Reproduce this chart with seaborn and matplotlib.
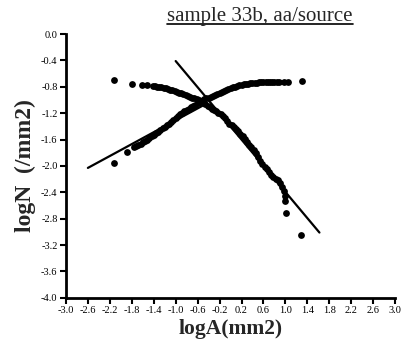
import numpy as np
import pandas as pd
import matplotlib
matplotlib.use("Agg")
import matplotlib.pyplot as plt
import seaborn as sns

# points
falling_x = [-2.12, -1.79, -1.62, -1.52,
             -1.42, -1.38, -1.34, -1.30, -1.26, -1.22, -1.18, -1.14, -1.10, -1.06,
             -1.02, -0.98, -0.94, -0.90, -0.86, -0.82, -0.78, -0.74, -0.70, -0.66,
             -0.62, -0.58, -0.54, -0.50, -0.46, -0.42, -0.38, -0.34, -0.30, -0.26,
             -0.22, -0.18, -0.14, -0.10, -0.06, -0.02, 0.02, 0.06, 0.10, 0.14,
             0.18, 0.22, 0.26, 0.30, 0.34, 0.38, 0.42, 0.46, 0.50, 0.54,
             0.58, 0.62, 0.66, 0.70, 0.74, 0.78, 0.82, 0.86, 0.90, 0.94,
             0.97, 0.99, 1.00, 1.01, 1.29]
falling_y = [-0.69, -0.76, -0.77, -0.77,
             -0.79, -0.795, -0.80, -0.805, -0.81, -0.815, -0.825, -0.835, -0.845, -0.855,
             -0.865, -0.875, -0.89, -0.90, -0.915, -0.93, -0.945, -0.955, -0.965, -0.975,
             -0.985, -0.995, -1.01, -1.03, -1.06, -1.09, -1.11, -1.13, -1.15, -1.17,
             -1.19, -1.21, -1.24, -1.28, -1.32, -1.36, -1.38, -1.41, -1.44, -1.47,
             -1.51, -1.55, -1.59, -1.64, -1.68, -1.72, -1.76, -1.81, -1.86, -1.92,
             -1.97, -2.01, -2.05, -2.09, -2.13, -2.17, -2.20, -2.22, -2.26, -2.32,
             -2.38, -2.46, -2.53, -2.71, -3.04]

rising_x = [-2.13, -1.88, -1.76, -1.72, -1.68, -1.64, -1.60, -1.56, -1.52, -1.48,
            -1.44, -1.40, -1.36, -1.32, -1.28, -1.24, -1.20, -1.16, -1.12, -1.08,
            -1.04, -1.00, -0.96, -0.92, -0.88, -0.84, -0.80, -0.76, -0.72, -0.68,
            -0.64, -0.60, -0.56, -0.52, -0.48, -0.44, -0.40, -0.36, -0.32, -0.28,
            -0.24, -0.20, -0.16, -0.12, -0.08, -0.04, 0.00, 0.04, 0.08, 0.12,
            0.16, 0.20, 0.24, 0.28, 0.32, 0.36, 0.40, 0.44, 0.48, 0.52,
            0.56, 0.60, 0.64, 0.68, 0.72, 0.76, 0.80, 0.84, 0.88, 0.97,
            1.05, 1.31]
rising_y = [-1.95, -1.79, -1.72, -1.70, -1.68, -1.66, -1.64, -1.62, -1.60, -1.58,
            -1.55, -1.53, -1.50, -1.48, -1.45, -1.43, -1.41, -1.38, -1.36, -1.33,
            -1.30, -1.27, -1.24, -1.21, -1.19, -1.17, -1.15, -1.13, -1.11, -1.09,
            -1.07, -1.05, -1.03, -1.01, -0.99, -0.975, -0.965, -0.95, -0.935, -0.92,
            -0.905, -0.89, -0.875, -0.86, -0.845, -0.83, -0.82, -0.81, -0.80, -0.79,
            -0.78, -0.77, -0.765, -0.76, -0.755, -0.75, -0.745, -0.74, -0.74, -0.735,
            -0.735, -0.73, -0.73, -0.73, -0.725, -0.72, -0.72, -0.72, -0.72, -0.73,
            -0.72, -0.71]

# fitted lines (end points)
fit_up_x = [-2.60, -0.45]
fit_up_y = [-2.03, -1.06]
fit_down_x = [-1.00, 1.62]
fit_down_y = [-0.41, -3.01]

xticks = [-3.0, -2.6, -2.2, -1.8, -1.4, -1.0, -0.6, -0.2, 0.2, 0.6, 1.0, 1.4, 1.8, 2.2, 2.6, 3.0]
yticks = [0.0, -0.4, -0.8, -1.2, -1.6, -2.0, -2.4, -2.8, -3.2, -3.6, -4.0]

sns.set_style("ticks")
plt.rcParams['font.family'] = ['Liberation Serif', 'DejaVu Serif']

fig = plt.figure(figsize=(4.02, 3.58), dpi=100)
ax = fig.add_axes([0.164, 0.168, 0.819, 0.737])

pts = pd.DataFrame({'x': falling_x + rising_x, 'y': falling_y + rising_y})
sns.scatterplot(data=pts, x='x', y='y', ax=ax, color='black', s=24, linewidth=0, legend=False)
sns.lineplot(x=fit_up_x, y=fit_up_y, ax=ax, color='black', linewidth=1.6)
sns.lineplot(x=fit_down_x, y=fit_down_y, ax=ax, color='black', linewidth=1.6)

ax.set_xlim(-3.0, 3.0)
ax.set_ylim(-4.0, 0.0)
ax.set_xticks(xticks)
ax.set_xticklabels([f"{t:.1f}" for t in xticks])
ax.set_yticks(yticks)
ax.set_yticklabels([f"{t:.1f}" for t in yticks])
ax.tick_params(labelsize=7.5, length=4, width=1.5, pad=2, colors='black')
for s in ['left', 'bottom']:
    ax.spines[s].set_linewidth(2)
    ax.spines[s].set_color('black')
sns.despine(ax=ax)

ax.set_xlabel('logA(mm2)', fontsize=15.5, fontweight='bold', labelpad=3)
ax.set_ylabel('logN  (/mm2)', fontsize=17, fontweight='bold', labelpad=4)

title = fig.text(0.647, 0.955, 'sample 33b, aa/source', fontsize=15, ha='center', va='center')

# underline the title
fig.canvas.draw()
bb = title.get_window_extent().transformed(fig.transFigure.inverted())
fig.add_artist(plt.Line2D([bb.x0, bb.x1], [bb.y0 + 0.004, bb.y0 + 0.004],
                          transform=fig.transFigure, color='black', linewidth=1.2))

fig.savefig('out.png', dpi=100)
